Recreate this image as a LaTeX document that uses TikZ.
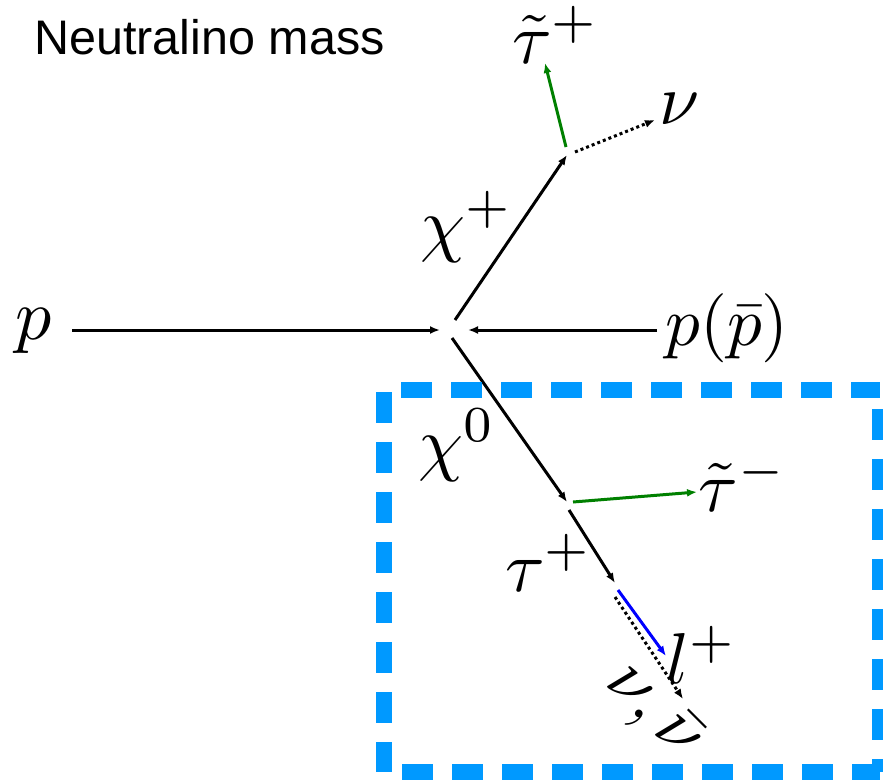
\documentclass[tikz,border=0pt]{standalone}
\usepackage{fontspec}
\newfontfamily\titlefont{Liberation Sans}
\usetikzlibrary{arrows.meta}
\definecolor{boxblue}{RGB}{0,153,255}
\definecolor{dkgreen}{RGB}{0,128,0}
\tikzset{
  lbl/.style={inner sep=0pt, scale=7.2},
  arr/.style={line width=3pt, -{Latex[length=10pt,width=8pt]}},
  dotarr/.style={arr, dash pattern=on 3pt off 3pt},
  boxedge/.style={boxblue, line width=16pt},
}
\begin{document}
\begin{tikzpicture}[x=1pt,y=-1pt]
\useasboundingbox (0,0) rectangle (883,781);

% title
\node[anchor=base west, inner sep=0pt, font=\titlefont\fontsize{48.5}{58}\selectfont] (title) at (34,55) {Neutralino mass};

% labels
\node[lbl] (lp) at (33.5,330.5) {$p$};
\node[lbl, scale=0.96] (lpb) at (727,328.5) {$p(\bar p)$};
\node[lbl] (lchp) at (467,226.5) {$\chi^+$};
\node[lbl] (lstp) at (556,35) {$\tilde\tau^+$};
\node[lbl] (lnu) at (680,109) {$\nu$};
\node[lbl] (lch0) at (457,445) {$\chi^0$};
\node[lbl] (lstm) at (743,483) {$\tilde\tau^-$};
\node[lbl] (ltau) at (549,563) {$\tau^+$};
\node[lbl] (ll) at (702,655) {$l^+$};
\node[lbl, rotate=-45] (lnn) at (652,713) {$\nu,\bar\nu$};

% coordinates
\coordinate (pA) at (72,330);   \coordinate (pB) at (440,330);
\coordinate (qA) at (657,330);  \coordinate (qB) at (468,330);
\coordinate (cA) at (455,320);  \coordinate (cB) at (567,155);
\coordinate (gA) at (566,147);  \coordinate (gB) at (545,63);
\coordinate (dA) at (575,152);  \coordinate (dB) at (655,120);
\coordinate (zA) at (452,338);  \coordinate (zB) at (567,502);
\coordinate (hA) at (573,502);  \coordinate (hB) at (697,492);
\coordinate (tA) at (569,510);  \coordinate (tB) at (615,583);
\coordinate (bA) at (618,590);  \coordinate (bB) at (666,656);
\coordinate (eA) at (615,597);  \coordinate (eB) at (683,699);

% connectors
\draw[arr] (pA) -- (pB);
\draw[arr] (qA) -- (qB);
\draw[arr] (cA) -- (cB);
\draw[arr, dkgreen] (gA) -- (gB);
\draw[dotarr] (dA) -- (dB);
\draw[arr] (zA) -- (zB);
\draw[arr, dkgreen] (hA) -- (hB);
\draw[arr] (tA) -- (tB);
\draw[arr, blue] (bA) -- (bB);
\draw[dotarr] (eA) -- (eB);

% dashed box
\coordinate (k1) at (384,390); \coordinate (k2) at (880,390);
\coordinate (k3) at (880,772); \coordinate (k4) at (384,772);
\draw[boxedge, dash pattern=on 31pt off 19pt, dash phase=33pt] (k1) -- (k2);
\draw[boxedge, dash pattern=on 31pt off 19pt, dash phase=48pt] (k1) -- (k4);
\draw[boxedge, dash pattern=on 31pt off 19pt, dash phase=31pt] (k2) -- (k3);
\draw[boxedge, dash pattern=on 31pt off 19pt, dash phase=32pt] (k4) -- (k3);
\end{tikzpicture}
\end{document}
